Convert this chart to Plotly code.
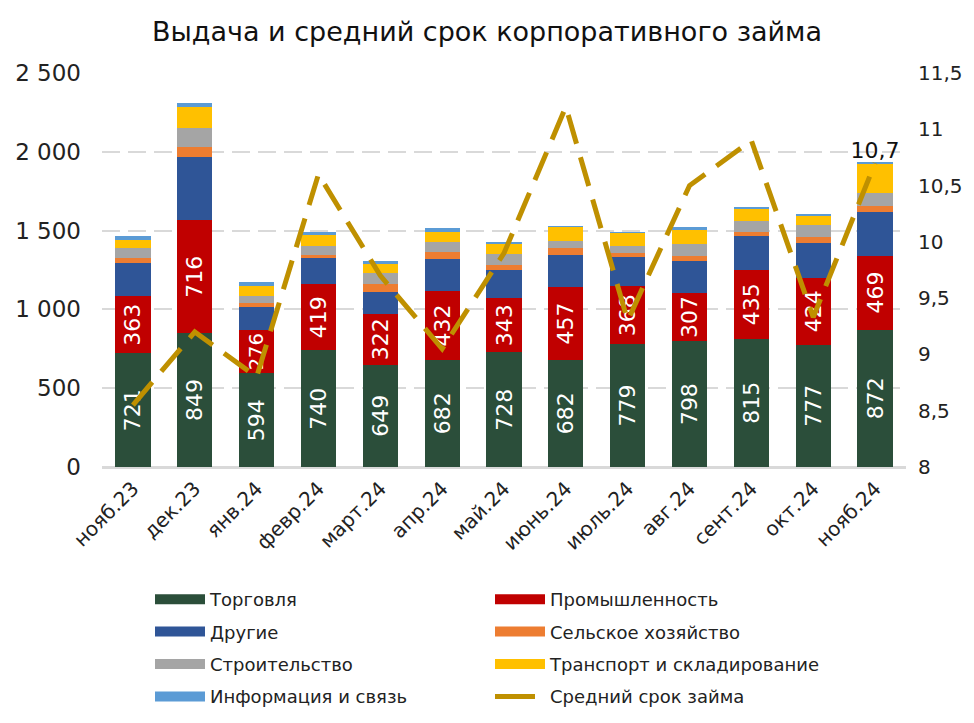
import plotly.graph_objects as go

months = ["нояб.23", "дек.23", "янв.24", "февр.24", "март.24", "апр.24", "май.24",
          "июнь.24", "июль.24", "авг.24", "сент.24", "окт.24", "нояб.24"]
trade = [721, 849, 594, 740, 649, 682, 728, 682, 779, 798, 815, 777, 872]
industry = [363, 716, 276, 419, 322, 432, 343, 457, 368, 307, 435, 424, 469]
other = [210, 402, 145, 167, 139, 206, 179, 206, 185, 202, 216, 220, 277]
agri = [32, 63, 26, 19, 51, 44, 32, 45, 26, 32, 25, 38, 38]
construction = [64, 121, 44, 57, 70, 64, 70, 44, 44, 76, 70, 77, 83]
transport = [50, 133, 63, 70, 57, 63, 63, 89, 83, 95, 76, 57, 184]
info = [26, 26, 26, 19, 19, 26, 13, 6, 6, 10, 13, 12, 12]
avg_term = [8.55, 9.2, 8.8, 10.6, 9.7, 9.05, 9.9, 11.2, 9.3, 10.5, 10.9, 9.33, 10.7]

FONT = "DejaVu Sans"
series = [
    ("Торговля", trade, "#2B4E3A", True, "legend"),
    ("Промышленность", industry, "#C00000", True, "legend2"),
    ("Другие", other, "#2F5597", False, "legend"),
    ("Сельское хозяйство", agri, "#ED7D31", False, "legend2"),
    ("Строительство", construction, "#A5A5A5", False, "legend"),
    ("Транспорт и складирование", transport, "#FFC000", False, "legend2"),
    ("Информация и связь", info, "#5B9BD5", False, "legend"),
]
LINE_COLOR = "#BF9000"
TERM_NAME = "Средний срок займа"

fig = go.Figure()
for name, vals, color, lab, _ in series:
    fig.add_trace(go.Bar(
        x=months, y=vals, name=name, marker=dict(color=color, line=dict(width=0)),
        showlegend=False,
        text=[str(v) for v in vals] if lab else None,
        texttemplate="%{text}" if lab else None,
        textposition="inside" if lab else "none",
        insidetextanchor="middle", textangle=-90,
        textfont=dict(color="white", size=22, family=FONT),
        hoverinfo="skip",
    ))

# legend entries (thick line swatches)
for name, vals, color, lab, lg in series:
    fig.add_trace(go.Scatter(
        x=[None], y=[None], mode="lines", name=name,
        line=dict(color=color, width=10), legend=lg, legendgroup=name,
        showlegend=True,
    ))
fig.add_trace(go.Scatter(
    x=[None], y=[None], mode="lines", name=TERM_NAME,
    line=dict(color=LINE_COLOR, width=5, dash="40px,100px"),
    legend="legend2", legendgroup="term", showlegend=True,
))

term_text = [""] * (len(avg_term) - 1) + [f"{avg_term[-1]:.1f}".replace(".", ",")]
fig.add_trace(go.Scatter(
    x=months, y=avg_term, yaxis="y2", mode="lines+text", name=TERM_NAME,
    line=dict(color=LINE_COLOR, width=5, dash="30px,14px"),
    text=term_text, textposition="top center",
    textfont=dict(size=22, color="#111", family=FONT),
    showlegend=False, cliponaxis=False,
))

legend_common = dict(orientation="v", xanchor="left", yanchor="top",
                     font=dict(size=18, color="#222", family=FONT),
                     bgcolor="rgba(0,0,0,0)", tracegroupgap=6,
                     traceorder="grouped", itemwidth=50)

L, R, T, B = 94, 76, 65, 264
PW, PH = 974 - L - R, 723 - T - B

fig.update_layout(
    width=974, height=723,
    margin=dict(l=L, r=R, t=T, b=B, autoexpand=False),
    barmode="stack", bargap=0.43,
    separators=", ",
    plot_bgcolor="white", paper_bgcolor="white",
    font=dict(family=FONT, color="#222"),
    title=dict(text="Выдача и средний срок корпоративного займа", x=0.5 - 8 / 974,
               xanchor="center", y=1 - 24 / 723, yanchor="middle", yref="container",
               font=dict(size=27, color="#111", family=FONT)),
    xaxis=dict(tickangle=-45, tickfont=dict(size=20, color="#222"), ticks="",
               range=[-0.5, len(months) - 0.5],
               showline=True, linecolor="#D9D9D9", linewidth=2, showgrid=False,
               automargin=False),
    yaxis=dict(range=[0, 2500], dtick=500, separatethousands=True,
               tickfont=dict(size=23, color="#222"), ticks="",
               showgrid=True, gridcolor="#D9D9D9", gridwidth=2, griddash="18px,8px",
               zeroline=True, zerolinecolor="#D9D9D9", zerolinewidth=2,
               ticklabelstandoff=20, automargin=False),
    yaxis2=dict(range=[8, 11.5], dtick=0.5, overlaying="y", side="right",
                tickfont=dict(size=20, color="#222"), ticks="", showgrid=False,
                zeroline=False, ticklabelstandoff=11, automargin=False),
    legend=dict(x=(142 - L) / PW, y=(T + PH - 573) / PH, **legend_common),
    legend2=dict(x=(482 - L) / PW, y=(T + PH - 573) / PH, **legend_common),
    showlegend=True,
)

fig.write_html("out.html")
